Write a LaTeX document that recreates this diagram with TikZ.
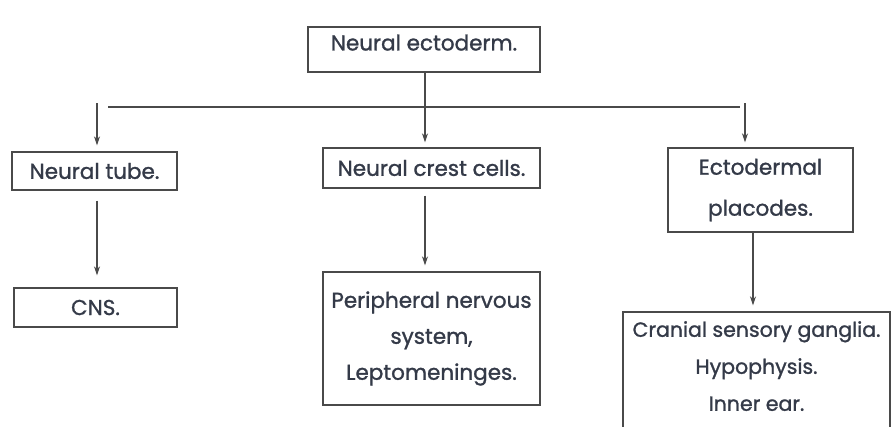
\documentclass[tikz,border=0pt]{standalone}
\usepackage{fontspec}
\setmainfont{Poppins}[FakeBold=1.2]
\usetikzlibrary{arrows.meta}
\definecolor{inkc}{HTML}{343A48}
\definecolor{linec}{HTML}{4A4A4A}
\tikzset{
  box/.style={draw=linec, line width=1.4pt, align=center, text=inkc, inner sep=0pt,
    font=\fontsize{21.5}{36}\selectfont},
  conn/.style={draw=linec, line width=1.1pt},
  arr/.style={conn, -{Stealth[length=9pt,width=6pt]}},
}
\begin{document}
\begin{tikzpicture}[x=1pt,y=-1pt]
\useasboundingbox (0,0) rectangle (894,426);
\fill[white] (0,0) rectangle (894,426);
\node[box, minimum width=232pt, minimum height=45pt, text depth=14pt] (ecto) at (424,49.5) {Neural ectoderm.};
\node[box, minimum width=165pt, minimum height=38pt] (tube) at (94.5,171) {Neural tube.};
\node[box, minimum width=217pt, minimum height=40pt] (crest) at (431.5,168) {Neural crest cells.};
\node[box, minimum width=185pt, minimum height=84pt, font=\fontsize{21.5}{41}\selectfont] (plac) at (760.5,190) {Ectodermal\\placodes.};
\node[box, minimum width=163pt, minimum height=39pt] (cns) at (95.5,307.5) {CNS.};
\node[box, minimum width=217pt, minimum height=133pt] (pns) at (431.5,338.5) {Peripheral nervous\\system,\\Leptomeninges.};
\node[box, minimum width=267pt, minimum height=124pt, text depth=16pt, font=\fontsize{20.5}{37}\selectfont] (cran) at (756.5,374) {Cranial sensory ganglia.\\Hypophysis.\\Inner ear.};
\coordinate (hl) at (108,107);
\coordinate (hr) at (740,107);
\coordinate (la) at (97,103);
\coordinate (ra) at (745,103);
\draw[conn] (hl) -- (hr);
\draw[arr, shorten >=5pt] (ecto.south -| 425,0) -- (crest.north -| 425,0);
\draw[arr, shorten >=6pt] (la) -- (la |- tube.north);
\draw[arr, shorten >=5pt] (ra) -- (ra |- plac.north);
\draw[arr, shorten <=10pt, shorten >=12pt] (tube.south -| 97,0) -- (cns.north -| 97,0);
\draw[arr, shorten <=7pt, shorten >=6pt] (crest.south -| 425,0) -- (pns.north -| 425,0);
\draw[arr, shorten >=6pt] (plac.south -| 753,0) -- (cran.north -| 753,0);
\end{tikzpicture}
\end{document}
